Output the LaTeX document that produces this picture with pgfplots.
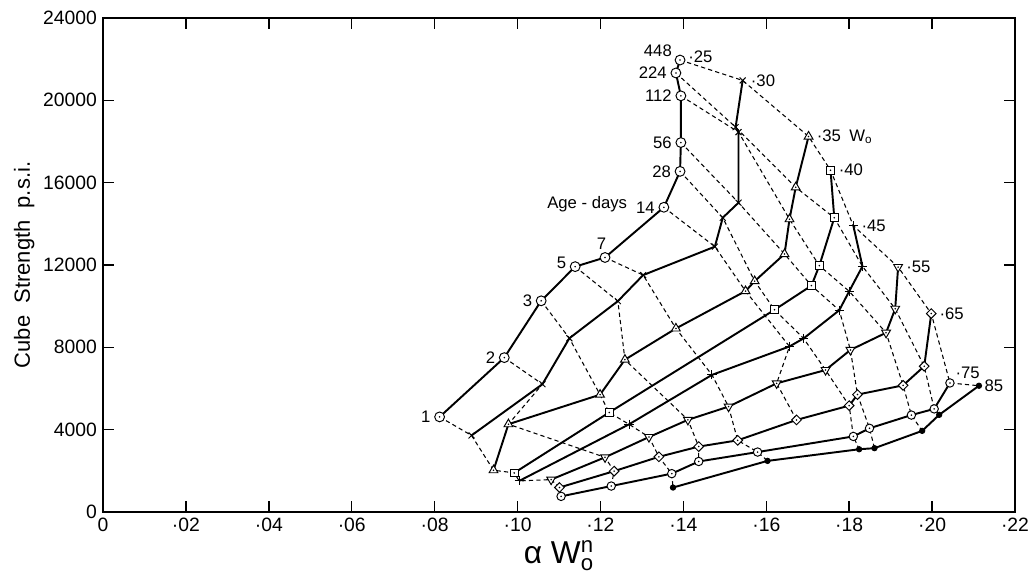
\documentclass[border=0pt]{standalone}
\usepackage{fontspec}
\setmainfont{Liberation Sans}
\usepackage{amsmath}
\usepackage{pgfplots}
\pgfplotsset{compat=1.18}

\pgfdeclareplotmark{cdot}{%
 \pgfpathcircle{\pgfpointorigin}{\pgfplotmarksize}%
 \pgfsetfillcolor{white}\pgfusepathqfillstroke
 \pgfsetfillcolor{black}\pgfpathcircle{\pgfpointorigin}{0.5pt}\pgfusepathqfill}
\pgfdeclareplotmark{tudot}{%
 \pgfpathmoveto{\pgfpointpolar{90}{1.2\pgfplotmarksize}}%
 \pgfpathlineto{\pgfpointpolar{210}{1.2\pgfplotmarksize}}%
 \pgfpathlineto{\pgfpointpolar{330}{1.2\pgfplotmarksize}}%
 \pgfpathclose
 \pgfsetfillcolor{white}\pgfusepathqfillstroke
 \pgfsetfillcolor{black}\pgfpathcircle{\pgfpointorigin}{0.5pt}\pgfusepathqfill}
\pgfdeclareplotmark{tddot}{%
 \pgfpathmoveto{\pgfpointpolar{270}{1.2\pgfplotmarksize}}%
 \pgfpathlineto{\pgfpointpolar{30}{1.2\pgfplotmarksize}}%
 \pgfpathlineto{\pgfpointpolar{150}{1.2\pgfplotmarksize}}%
 \pgfpathclose
 \pgfsetfillcolor{white}\pgfusepathqfillstroke
 \pgfsetfillcolor{black}\pgfpathcircle{\pgfpointorigin}{0.5pt}\pgfusepathqfill}
\pgfdeclareplotmark{sqdot}{%
 \pgfpathrectanglecorners{\pgfpoint{-0.85\pgfplotmarksize}{-0.85\pgfplotmarksize}}{\pgfpoint{0.85\pgfplotmarksize}{0.85\pgfplotmarksize}}%
 \pgfsetfillcolor{white}\pgfusepathqfillstroke
 \pgfsetfillcolor{black}\pgfpathcircle{\pgfpointorigin}{0.5pt}\pgfusepathqfill}
\pgfdeclareplotmark{didot}{%
 \pgfpathmoveto{\pgfpointpolar{0}{1.1\pgfplotmarksize}}%
 \pgfpathlineto{\pgfpointpolar{90}{1.1\pgfplotmarksize}}%
 \pgfpathlineto{\pgfpointpolar{180}{1.1\pgfplotmarksize}}%
 \pgfpathlineto{\pgfpointpolar{270}{1.1\pgfplotmarksize}}%
 \pgfpathclose
 \pgfsetfillcolor{white}\pgfusepathqfillstroke
 \pgfsetfillcolor{black}\pgfpathcircle{\pgfpointorigin}{0.5pt}\pgfusepathqfill}

\begin{document}
\begin{tikzpicture}
\begin{axis}[name=ax,
  scale only axis, width=18.24cm, height=9.88cm,
  xmin=0, xmax=0.22, ymin=0, ymax=24000,
  scaled x ticks=false, scaled y ticks=false,
  xtick={0,0.02,0.04,0.06,0.08,0.1,0.12,0.14,0.16,0.18,0.2,0.22},
  xticklabels={0,·02,·04,·06,·08,·10,·12,·14,·16,·18,·20,·22},
  ytick={0,4000,8000,12000,16000,20000,24000},
  yticklabels={0,4000,8000,12000,16000,20000,24000},
  tick align=inside, major tick length=0.22cm,
  tick style={black, line width=0.8pt},
  axis line style={line width=1.3pt},
  ticklabel style={font=\fontsize{11}{12}\selectfont},
  xlabel={α W$^{\text{n}}_{\text{o}}$},
  xlabel style={font=\fontsize{18}{20}\selectfont, yshift=2pt},
  ylabel={Cube\ \ Strength\ \ p.s.i.},
  ylabel style={font=\fontsize{12.5}{14}\selectfont, yshift=-2pt},
  clip=false,
]
% ---- dashed lines: equal age ----
\pgfplotsset{agel/.style={black, line width=0.6pt, dash pattern=on 2.4pt off 1.8pt, mark=none}}
% 1 day
\addplot[agel] coordinates {(0.0812,4620) (0.0889,3720) (0.0942,2030) (0.0992,1900) (0.1004,1510) (0.1081,1575) (0.1101,1190) (0.1105,760)};
% 2 days
\addplot[agel] coordinates {(0.0968,7500) (0.1060,6210) (0.0978,4265) (0.1211,2657) (0.1233,1985) (0.1226,1261)};
% 3 days
\addplot[agel] coordinates {(0.1057,10260) (0.1125,8440) (0.1199,5700) (0.1221,4835) (0.1269,4260) (0.1317,3642) (0.1341,2681) (0.1372,1864) (0.1375,1188)};
% 5 days
\addplot[agel] coordinates {(0.1139,11920) (0.1242,10244) (0.1259,7400) (0.1411,4477) (0.1437,3178) (0.1437,2454)};
% 7 days
\addplot[agel] coordinates {(0.1211,12365) (0.1303,11510) (0.1382,8916) (0.1469,6661) (0.1509,5120) (0.1531,3482) (0.1579,2912) (0.1603,2483)};
% 14 days
\addplot[agel] coordinates {(0.1353,14804) (0.1476,12891) (0.1550,10732) (0.1656,8042) (0.1625,6250) (0.1673,4473)};
% 28 days
\addplot[agel] coordinates {(0.1392,16548) (0.1495,14297) (0.1572,11215) (0.1620,9824) (0.1690,8433) (0.1743,6897) (0.1800,5168) (0.1810,3671) (0.1824,3048)};
% 56 days
\addplot[agel] coordinates {(0.1394,17948) (0.1533,15026) (0.1644,12534) (0.1709,10998) (0.1776,9800) (0.1803,7873) (0.1820,5704) (0.1849,4067) (0.1861,3101)};
% 112 days
\addplot[agel] coordinates {(0.1394,20218) (0.1533,18455) (0.1656,14224) (0.1728,11969) (0.1800,10723) (0.1889,8708) (0.1930,6153) (0.1950,4709) (0.1976,3941)};
% 224 days
\addplot[agel] coordinates {(0.1382,21329) (0.1526,18697) (0.1671,15775) (0.1764,14292) (0.1832,11935) (0.1911,9873) (0.1981,7081) (0.2005,5009) (0.2017,4719)};
% 448 days
\addplot[agel] coordinates {(0.1392,21957) (0.1543,20967) (0.1702,18243) (0.1755,16606) (0.1810,13910) (0.1918,11901) (0.1998,9641) (0.2043,6269) (0.2113,6134)};

% ---- solid lines: constant W0 ----
\pgfplotsset{wl/.style={black, line width=1.1pt, mark options={solid, line width=0.55pt}}}
% W0 = .25
\addplot[wl, mark=cdot, mark size=2.8pt] coordinates {(0.0812,4620) (0.0968,7500) (0.1057,10260) (0.1139,11920) (0.1211,12365) (0.1353,14804) (0.1392,16548) (0.1394,17948) (0.1394,20218) (0.1382,21329) (0.1392,21957)};
% W0 = .30
\addplot[wl, mark=x, mark size=2.4pt] coordinates {(0.0889,3720) (0.1060,6210) (0.1125,8440) (0.1242,10244) (0.1303,11510) (0.1476,12891) (0.1495,14297) (0.1533,15026) (0.1533,18455) (0.1526,18697) (0.1543,20967)};
% W0 = .35
\addplot[wl, mark=tudot, mark size=2.4pt] coordinates {(0.0942,2030) (0.0978,4265) (0.1199,5700) (0.1259,7400) (0.1382,8916) (0.1550,10732) (0.1572,11215) (0.1644,12534) (0.1656,14224) (0.1671,15775) (0.1702,18243)};
% W0 = .40
\addplot[wl, mark=sqdot, mark size=2.6pt] coordinates {(0.0992,1900) (0.1221,4835) (0.1620,9824) (0.1709,10998) (0.1728,11969) (0.1764,14292) (0.1755,16606)};
% W0 = .45
\addplot[wl, mark=+, mark size=2.6pt] coordinates {(0.1004,1510) (0.1269,4260) (0.1469,6661) (0.1656,8042) (0.1690,8433) (0.1776,9800) (0.1800,10723) (0.1832,11935) (0.1810,13910)};
% W0 = .55
\addplot[wl, mark=tddot, mark size=2.4pt] coordinates {(0.1081,1575) (0.1211,2657) (0.1317,3642) (0.1411,4477) (0.1509,5120) (0.1625,6250) (0.1743,6897) (0.1803,7873) (0.1889,8708) (0.1911,9873) (0.1918,11901)};
% W0 = .65
\addplot[wl, mark=didot, mark size=2.5pt] coordinates {(0.1101,1190) (0.1233,1985) (0.1341,2681) (0.1437,3178) (0.1531,3482) (0.1673,4473) (0.1800,5168) (0.1820,5704) (0.1930,6153) (0.1981,7081) (0.1998,9641)};
% W0 = .75
\addplot[wl, mark=cdot, mark size=2.4pt] coordinates {(0.1105,760) (0.1226,1261) (0.1372,1864) (0.1437,2454) (0.1579,2912) (0.1810,3671) (0.1849,4067) (0.1950,4709) (0.2005,5009) (0.2043,6269)};
% W0 = .85
\addplot[wl, mark=*, mark size=1.5pt] coordinates {(0.1375,1188) (0.1603,2483) (0.1824,3048) (0.1861,3101) (0.1976,3941) (0.2017,4719) (0.2113,6134)};

% ---- labels ----
\tikzset{lab/.style={font=\fontsize{9.5}{10}\selectfont, inner sep=1pt}}
\node[lab, anchor=east, xshift=-4pt] at (axis cs:0.0812,4620) {1};
\node[lab, anchor=east, xshift=-4pt] at (axis cs:0.0968,7500) {2};
\node[lab, anchor=east, xshift=-4pt] at (axis cs:0.1057,10260) {3};
\node[lab, anchor=east, xshift=-4pt, yshift=2pt] at (axis cs:0.1139,11920) {5};
\node[lab, anchor=south, xshift=-2pt, yshift=3.5pt] at (axis cs:0.1211,12365) {7};
\node[lab, anchor=east, xshift=-4pt] at (axis cs:0.1353,14804) {14};
\node[lab, anchor=east, xshift=-4pt] at (axis cs:0.1392,16548) {28};
\node[lab, anchor=east, xshift=-4pt] at (axis cs:0.1394,17948) {56};
\node[lab, anchor=east, xshift=-4pt] at (axis cs:0.1394,20218) {112};
\node[lab, anchor=east, xshift=-4pt] at (axis cs:0.1382,21329) {224};
\node[lab, anchor=south east, xshift=-3.5pt, yshift=1pt] at (axis cs:0.1392,21957) {448};
\node[lab, anchor=west, xshift=3.5pt, yshift=2pt] at (axis cs:0.1392,21957) {·25};
\node[lab, anchor=west, xshift=3.5pt] at (axis cs:0.1543,20967) {·30};
\node[lab, anchor=west, xshift=3.5pt] at (axis cs:0.1702,18243) {·35\enspace W\textsubscript{o}};
\node[lab, anchor=west, xshift=3.5pt] at (axis cs:0.1755,16606) {·40};
\node[lab, anchor=west, xshift=3.5pt] at (axis cs:0.1810,13910) {·45};
\node[lab, anchor=west, xshift=3.5pt] at (axis cs:0.1918,11901) {·55};
\node[lab, anchor=west, xshift=3.5pt] at (axis cs:0.1998,9641) {·65};
\node[lab, anchor=south west, xshift=2pt, yshift=1.5pt] at (axis cs:0.2043,6269) {·75};
\node[lab, anchor=west, xshift=2pt] at (axis cs:0.2113,6134) {85};
\node[lab, anchor=center] at (axis cs:0.1168,14970) {Age - days};
\end{axis}
\pgfresetboundingbox
\path ([xshift=-2.06cm,yshift=-1.32cm]ax.south west) rectangle ([xshift=0.36cm,yshift=0.36cm]ax.north east);
\end{tikzpicture}
\end{document}
